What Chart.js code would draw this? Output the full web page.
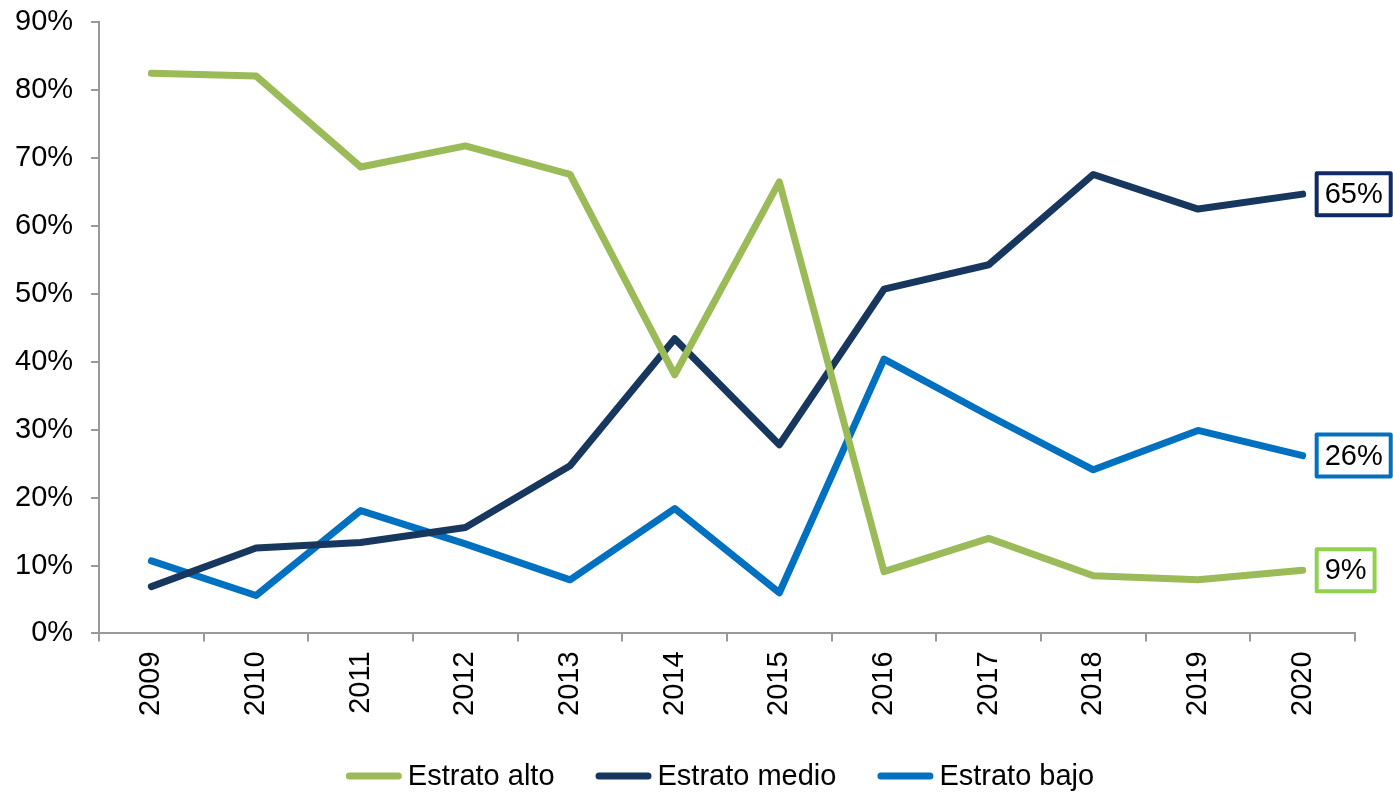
<!DOCTYPE html>
<html>
<head>
<meta charset="utf-8">
<script src="https://cdn.jsdelivr.net/npm/chart.js@4.4.0/dist/chart.umd.min.js"></script>
<style>
  html, body { margin: 0; padding: 0; background: #fff; }
  #wrap { width: 1393px; height: 792px; position: relative; }
</style>
</head>
<body>
<div id="wrap"><canvas id="chart"></canvas></div>
<script>
// Données
const years = ['2009', '2010', '2011', '2012', '2013', '2014', '2015', '2016', '2017', '2018', '2019', '2020'];
const estratoAlto  = [82.5, 82.1, 68.7, 71.8, 67.6, 38.1, 66.5, 9.1, 14.0, 8.5, 7.9, 9.3];
const estratoMedio = [6.9, 12.6, 13.4, 15.6, 24.7, 43.4, 27.8, 50.7, 54.3, 67.6, 62.5, 64.7];
const estratoBajo  = [10.7, 5.6, 18.1, 13.2, 7.9, 18.4, 6.0, 40.4, 32.1, 24.1, 29.9, 26.2];
const yTicks = [0, 10, 20, 30, 40, 50, 60, 70, 80, 90];

const FONT = "'Liberation Sans', Arial, sans-serif";

// Étiquettes encadrées à la fin de chaque série
const endLabels = {
  id: 'endLabels',
  afterDatasetsDraw(chart) {
    const ctx = chart.ctx;
    chart.data.datasets.forEach((ds, i) => {
      const meta = chart.getDatasetMeta(i);
      const last = meta.data[meta.data.length - 1];
      const text = Math.round(ds.data[ds.data.length - 1]) + '%';
      ctx.save();
      ctx.font = '29px ' + FONT;
      const w = ctx.measureText(text).width + 16;
      const h = 42;
      const x = last.x + 14;
      const y = last.y - h / 2;
      ctx.fillStyle = '#fff';
      ctx.fillRect(x, y, w, h);
      ctx.lineWidth = 4;
      ctx.strokeStyle = ds.labelBorder;
      ctx.lineJoin = 'round';
      ctx.strokeRect(x, y, w, h);
      ctx.fillStyle = '#000';
      ctx.textAlign = 'center';
      ctx.textBaseline = 'middle';
      ctx.fillText(text, x + w / 2, last.y + 1);
      ctx.restore();
    });
  }
};

// Légende maison, centrée sous le graphique
const bottomLegend = {
  id: 'bottomLegend',
  afterDraw(chart) {
    const ctx = chart.ctx;
    const sample = 56, gap = 6, spacing = 41, cy = 776;
    ctx.save();
    ctx.font = '29px ' + FONT;
    const items = chart.data.datasets.map(ds => ({ ds, tw: ctx.measureText(ds.label).width }));
    const total = items.reduce((s, it) => s + sample + gap + it.tw, 0) + spacing * (items.length - 1);
    let x = 720 - total / 2;
    items.forEach(it => {
      ctx.strokeStyle = it.ds.borderColor;
      ctx.lineWidth = 7;
      ctx.lineCap = 'round';
      ctx.beginPath();
      ctx.moveTo(x + 3.5, cy);
      ctx.lineTo(x + sample - 3.5, cy);
      ctx.stroke();
      ctx.fillStyle = '#000';
      ctx.textBaseline = 'middle';
      ctx.textAlign = 'left';
      ctx.fillText(it.ds.label, x + sample + gap, cy + 1);
      x += sample + gap + it.tw + spacing;
    });
    ctx.restore();
  }
};

const mkSet = (label, data, color, labelBorder) => ({
  label: label,
  data: data,
  borderColor: color,
  backgroundColor: color,
  borderWidth: 7,
  borderCapStyle: 'round',
  borderJoinStyle: 'round',
  pointRadius: 0,
  tension: 0,
  labelBorder: labelBorder
});

new Chart(document.getElementById('chart'), {
  type: 'line',
  data: {
    labels: years,
    datasets: [
      mkSet('Estrato alto', estratoAlto, '#9BBB59', '#92D050'),
      mkSet('Estrato medio', estratoMedio, '#17375E', '#0F2A64'),
      mkSet('Estrato bajo', estratoBajo, '#0070C0', '#0070C0')
    ]
  },
  options: {
    responsive: true,
    maintainAspectRatio: false,
    animation: false,
    layout: { padding: { left: 0, right: 38, top: 0, bottom: 66 } },
    scales: {
      x: {
        offset: true,
        grid: { offset: true, drawOnChartArea: false, drawTicks: true, tickLength: 8, color: '#999', lineWidth: 2 },
        border: { color: '#999', width: 2 },
        ticks: { minRotation: 90, maxRotation: 90, padding: 10, color: '#000', font: { family: FONT, size: 29, lineHeight: 0.5 } }
      },
      y: {
        min: 0,
        max: 90,
        afterFit(scale) { scale.width -= 3; },
        afterBuildTicks(axis) { axis.ticks = yTicks.map(v => ({ value: v })); },
        grid: { drawOnChartArea: false, drawTicks: true, tickLength: 8, color: '#999', lineWidth: 2 },
        border: { color: '#999', width: 2 },
        ticks: { padding: 18, color: '#000', font: { family: FONT, size: 29, lineHeight: 0.3 }, callback: v => v + '%' }
      }
    },
    plugins: {
      legend: { display: false },
      tooltip: { enabled: false }
    }
  },
  plugins: [endLabels, bottomLegend]
});
</script>
</body>
</html>
